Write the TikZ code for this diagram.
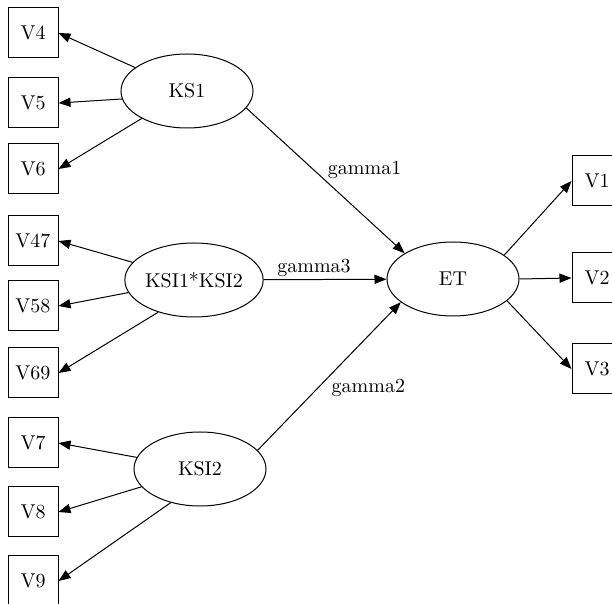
\documentclass[tikz,border=0pt]{standalone}
\usepackage{tikz}
\usetikzlibrary{arrows.meta,shapes.geometric}

\begin{document}
\begin{tikzpicture}[
  x=0.5pt, y=-0.5pt,
  font=\normalsize,
  obs/.style={draw, line width=0.5pt, minimum width=25pt, minimum height=25pt, inner sep=0pt},
  lat/.style={draw, ellipse, line width=0.5pt, minimum width=66pt, minimum height=37pt, inner sep=0pt},
  arrow/.style={-{Triangle[length=6pt, width=4.6pt]}, line width=0.5pt},
  lbl/.style={inner sep=1pt}
]
\useasboundingbox (0,0) rectangle (612,604);

% latent variables
\node[lat] (ks1) at (187,91) {KS1};
\node[lat] (ksi12) at (194,280) {KSI1*KSI2};
\node[lat] (ksi2) at (200,469) {KSI2};
\node[lat] (et) at (453,279) {ET};

% indicators
\node[obs] (v4) at (33,33) {V4};
\node[obs] (v5) at (33,103) {V5};
\node[obs] (v6) at (33,169) {V6};
\node[obs] (v47) at (33,241) {V47};
\node[obs] (v58) at (33,306) {V58};
\node[obs] (v69) at (33,373) {V69};
\node[obs] (v7) at (33,443) {V7};
\node[obs] (v8) at (33,512) {V8};
\node[obs] (v9) at (33,581) {V9};
\node[obs] (v1) at (597,181) {V1};
\node[obs] (v2) at (597,278) {V2};
\node[obs] (v3) at (597,369) {V3};

\draw[arrow] (ks1) -- (v4.east);
\draw[arrow] (ks1.187) -- (v5.east);
\draw[arrow] (ks1) -- (v6.east);
\draw[arrow] (ksi12) -- (v47.east);
\draw[arrow] (ksi12) -- (v58.east);
\draw[arrow] (ksi12.222) -- (v69.east);
\draw[arrow] (ksi2) -- (v7.east);
\draw[arrow] (ksi2) -- (v8.east);
\draw[arrow] (ksi2.229) -- (v9.east);
\draw[arrow] (et.25) -- (v1.west);
\draw[arrow] (et.east) -- (v2.west);
\draw[arrow] (et.-22) -- (v3.west);

% structural paths
\draw[arrow] (ks1.-16) -- node[lbl, pos=0.5, anchor=south west] {gamma1} (et.152);
\draw[arrow] (ksi12) -- node[lbl, pos=0.41, above] {gamma3} (et);
\draw[arrow] (ksi2.18) -- node[lbl, pos=0.5, anchor=north west] {gamma2} (et.204);
\end{tikzpicture}
\end{document}
